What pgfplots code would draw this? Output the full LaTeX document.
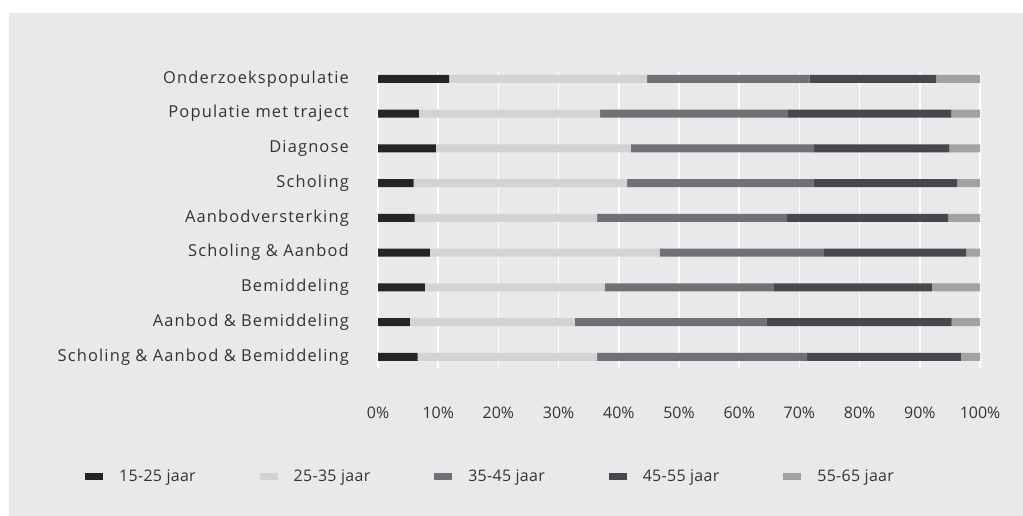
\documentclass[border=0pt]{standalone}
\usepackage{pgfplots}
\pgfplotsset{compat=1.18}
\usepackage{pgfplotstable}
\usepackage{fontspec}
\setmainfont{Open Sans}
\newfontfamily\labfont{Open Sans}[LetterSpace=7]
\newfontfamily\legfont{Open Sans}[LetterSpace=2]
\definecolor{bg}{HTML}{E8E9EB}
\definecolor{ca}{HTML}{252527}
\definecolor{cb}{HTML}{D2D3D5}
\definecolor{cc}{HTML}{717074}
\definecolor{cd}{HTML}{48474C}
\definecolor{ce}{HTML}{A2A2A5}
\definecolor{txt}{HTML}{333333}
\pgfplotstableread{
y a b c d e
0 11.8 32.9 27.0 21.0 7.3
1 6.8 30.1 31.2 27.1 4.8
2 9.6 32.4 30.4 22.5 5.1
3 5.9 35.5 30.9 23.9 3.8
4 6.1 30.3 31.5 26.8 5.3
5 8.6 38.2 27.3 23.6 2.3
6 7.8 29.9 28.1 26.2 8.0
7 5.3 27.4 31.8 30.8 4.7
8 6.6 29.8 34.9 25.5 3.2
}\datatab
\begin{document}
\begin{tikzpicture}[x=1bp,y=1bp]
\fill[white] (0,0) rectangle (1023,516);
\fill[bg] (9,0) rectangle (1023,503);
\useasboundingbox (0,0) rectangle (1023,516);
\begin{axis}[
  at={(378bp,148bp)}, anchor=south west,
  width=602bp, height=296bp, scale only axis,
  xbar stacked, bar width=8bp,
  xmin=0, xmax=100, ymin=-0.2, ymax=8.32, y dir=reverse,
  axis line style={draw=none},
  major tick length=0,
  xmajorgrids, grid style={white, line width=1.6bp},
  xtick={0,10,...,100},
  xticklabels={0\%,10\%,20\%,30\%,40\%,50\%,60\%,70\%,80\%,90\%,100\%},
  xticklabel style={font=\fontsize{16}{18}\selectfont, text=txt, anchor=center, yshift=-45bp, inner sep=0pt},
  ytick={0,...,8},
  yticklabels={Onderzoekspopulatie,Populatie met traject,Diagnose,Scholing,Aanbodversterking,Scholing \& Aanbod,Bemiddeling,Aanbod \& Bemiddeling,Scholing \& Aanbod \& Bemiddeling},
  yticklabel style={font=\labfont\fontsize{16.5}{18}\selectfont, text=txt, anchor=east, inner sep=0pt, xshift=-29bp},
  legend columns=5,
  legend style={draw=none, fill=none, inner sep=0pt, at={(axis description cs:-0.4867,-0.3649)}, anchor=west,
    font=\legfont\fontsize{16}{18}\selectfont, text=txt,
    /tikz/every even column/.append style={column sep=62bp}},
  legend image code/.code={\path[draw=none,fill=none] (0bp,-0.1bp) rectangle (32bp,0.1bp); \fill[#1] (0bp,-3.5bp) rectangle (18bp,3.5bp);},
]
\addplot[fill=ca, draw=none] table[x=a, y=y] {\datatab};
\addplot[fill=cb, draw=none] table[x=b, y=y] {\datatab};
\addplot[fill=cc, draw=none] table[x=c, y=y] {\datatab};
\addplot[fill=cd, draw=none] table[x=d, y=y] {\datatab};
\addplot[fill=ce, draw=none] table[x=e, y=y] {\datatab};
\legend{15-25 jaar,25-35 jaar,35-45 jaar,45-55 jaar,55-65 jaar}
\end{axis}
\end{tikzpicture}
\end{document}
